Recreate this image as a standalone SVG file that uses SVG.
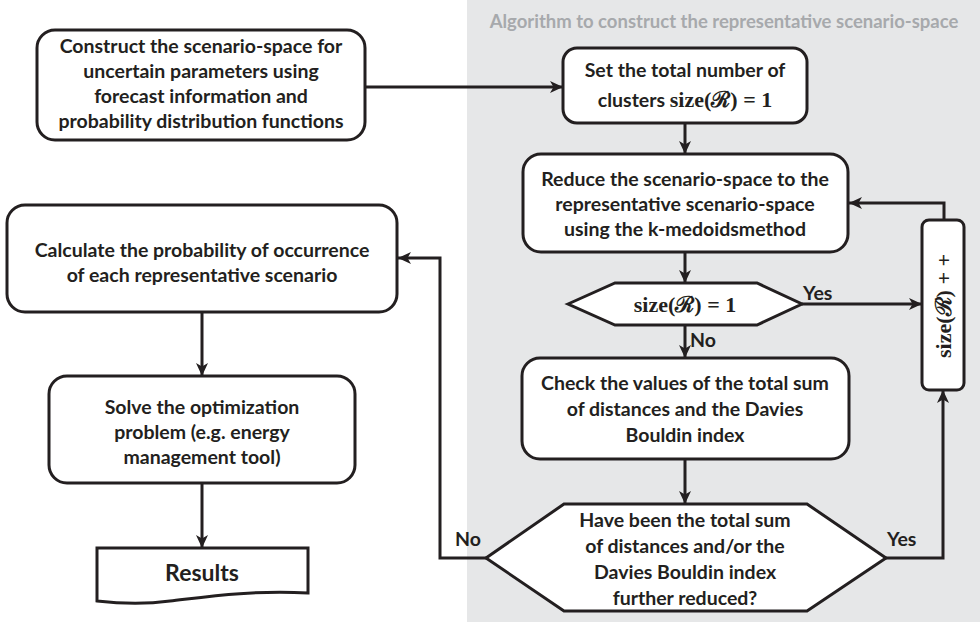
<svg xmlns="http://www.w3.org/2000/svg" width="980" height="622" viewBox="0 0 980 622">
<style>
.box{fill:#fff;stroke:#231f20;stroke-width:3}
.ln{fill:none;stroke:#231f20;stroke-width:3}
.t{font-family:Lato,"Open Sans","Liberation Sans",sans-serif;font-weight:bold;font-size:19.5px;fill:#231f20;text-anchor:middle}
.m{font-family:"Liberation Serif","DejaVu Serif",serif;font-weight:bold;font-size:22px}
.lbl{font-family:Lato,"Open Sans","Liberation Sans",sans-serif;font-weight:bold;font-size:19.5px;fill:#231f20}
</style>
<defs>
<marker id="ah" markerUnits="userSpaceOnUse" markerWidth="14" markerHeight="12" refX="13" refY="6" orient="auto">
<path d="M0,0 L13,6 L0,12 L3.5,6 Z" fill="#231f20"/>
</marker>
</defs>
<rect x="467" y="0" width="513" height="622" fill="#e6e7e8"/>
<text x="724" y="28" text-anchor="middle" style="font-family:Lato,'Open Sans','Liberation Sans',sans-serif;font-weight:bold;font-size:18.5px;fill:#a7a9ac">Algorithm to construct the representative scenario-space</text>

<g id="connectors">
<line class="ln" x1="365" y1="87" x2="563" y2="87" marker-end="url(#ah)"/>
<line class="ln" x1="685" y1="123" x2="685" y2="154" marker-end="url(#ah)"/>
<line class="ln" x1="685" y1="252" x2="685" y2="283" marker-end="url(#ah)"/>
<line class="ln" x1="685" y1="325" x2="685" y2="358" marker-end="url(#ah)"/>
<line class="ln" x1="802" y1="304" x2="922" y2="304" marker-end="url(#ah)"/>
<polyline class="ln" points="944,220 944,203 849,203" marker-end="url(#ah)"/>
<line class="ln" x1="685" y1="459" x2="685" y2="504" marker-end="url(#ah)"/>
<polyline class="ln" points="886,558 943,558 943,390" marker-end="url(#ah)"/>
<polyline class="ln" points="486,558 440,558 440,258 398,258" marker-end="url(#ah)"/>
<line class="ln" x1="202" y1="312" x2="202" y2="376" marker-end="url(#ah)"/>
<line class="ln" x1="202" y1="483" x2="202" y2="548" marker-end="url(#ah)"/>
<text class="lbl" x="803" y="300">Yes</text>
<text class="lbl" x="690" y="347">No</text>
<text class="lbl" x="455" y="546">No</text>
<text class="lbl" x="887" y="546">Yes</text>
</g>

<g id="n-construct">
<rect class="box" x="37" y="30" width="328" height="110" rx="18"/>
<text class="t" x="201" y="53">Construct the scenario-space for</text>
<text class="t" x="201" y="78">uncertain parameters using</text>
<text class="t" x="201" y="103">forecast information and</text>
<text class="t" x="201" y="128">probability distribution functions</text>
</g>

<g id="n-set">
<rect class="box" x="563" y="48" width="244" height="75" rx="14"/>
<text class="t" x="685" y="77">Set the total number of</text>
<text class="t" x="685" y="107">clusters <tspan class="m">size(ℛ) = 1</tspan></text>
</g>

<g id="n-reduce">
<rect class="box" x="523" y="154" width="325" height="98" rx="18"/>
<text class="t" x="685" y="186">Reduce the scenario-space to the</text>
<text class="t" x="685" y="211">representative scenario-space</text>
<text class="t" x="685" y="236">using the k-medoidsmethod</text>
</g>

<g id="n-dec1">
<polygon class="box" points="568,304 615,283 757,283 802,304 757,325 615,325"/>
<text class="t m" x="685" y="312">size(ℛ) = 1</text>
</g>

<g id="n-inc">
<rect class="box" x="922" y="220" width="42" height="170" rx="7"/>
<text class="t m" transform="translate(951,306) rotate(-90)" x="0" y="0">size(ℛ) + +</text>
</g>

<g id="n-check">
<rect class="box" x="522" y="358" width="327" height="101" rx="18"/>
<text class="t" x="685" y="390">Check the values of the total sum</text>
<text class="t" x="685" y="416">of distances and the Davies</text>
<text class="t" x="685" y="442">Bouldin index</text>
</g>

<g id="n-dec2">
<polygon class="box" points="486,558 564,504 807,504 886,558 807,611 564,611"/>
<text class="t" x="685" y="527">Have been the total sum</text>
<text class="t" x="685" y="553">of distances and/or the</text>
<text class="t" x="685" y="579">Davies Bouldin index</text>
<text class="t" x="685" y="605">further reduced?</text>
</g>

<g id="n-calc">
<rect class="box" x="7" y="205" width="390" height="107" rx="18"/>
<text class="t" x="202" y="257">Calculate the probability of occurrence</text>
<text class="t" x="202" y="282">of each representative scenario</text>
</g>

<g id="n-solve">
<rect class="box" x="49" y="376" width="306" height="107" rx="18"/>
<text class="t" x="202" y="414">Solve the optimization</text>
<text class="t" x="202" y="439">problem (e.g. energy</text>
<text class="t" x="202" y="464">management tool)</text>
</g>

<g id="n-results">
<path class="box" d="M97,548 H308 V593 C 250,590 205,597 170,601 C 140,605 115,603 97,601 Z"/>
<text class="t" x="202" y="581" style="font-size:23px">Results</text>
</g>
</svg>
